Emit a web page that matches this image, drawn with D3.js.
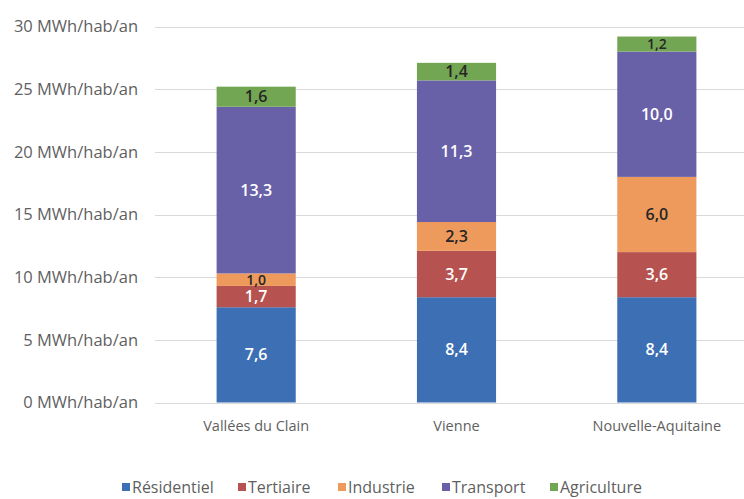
<!DOCTYPE html>
<html><head><meta charset="utf-8">
<script src="https://cdn.jsdelivr.net/npm/d3@7"></script>
<style>body{margin:0;background:#fff}svg{display:block}text{font-family:"Open Sans",sans-serif}</style>
</head><body><svg id="c" width="744" height="499"></svg>
<script>
const categories = ["Vallées du Clain", "Vienne", "Nouvelle-Aquitaine"];
const seriesNames = ["Résidentiel", "Tertiaire", "Industrie", "Transport", "Agriculture"];
const residentiel = [7.6, 8.4, 8.4];
const tertiaire = [1.7, 3.7, 3.6];
const industrie = [1.0, 2.3, 6.0];
const transport = [13.3, 11.3, 10.0];
const agriculture = [1.6, 1.4, 1.2];
const yTicks = [0, 5, 10, 15, 20, 25, 30];
const colors = ["#3d6fb4", "#b6524f", "#ee9a5c", "#6961a8", "#72a653"];
const labelColors = ["#fff", "#fff", "#262626", "#fff", "#262626"];

const seriesVals = [residentiel, tertiaire, industrie, transport, agriculture];
const rows = categories.map((c, i) => {
  const r = {cat: c};
  seriesNames.forEach((s, j) => r[s] = seriesVals[j][i]);
  return r;
});
const stack = d3.stack().keys(seriesNames)(rows);

const svg = d3.select("#c");
const x = d3.scaleBand().domain(categories).range([156, 757]).paddingInner(0.605).paddingOuter(0.3025);
const y = d3.scaleLinear().domain([0, 30]).range([402.5, 26.5]);

const grid = svg.append("g");
grid.selectAll("line").data(yTicks).join("line")
  .attr("x1", 155).attr("x2", 744)
  .attr("y1", d => Math.round(y(d)) + 0.5).attr("y2", d => Math.round(y(d)) + 0.5)
  .attr("stroke", "#d9d9d9").attr("stroke-width", 1.2);

const yAxis = d3.axisLeft(y).tickValues(yTicks).tickSize(0).tickPadding(0)
  .tickFormat(d => d + " MWh/hab/an");
const ya = svg.append("g").attr("transform", "translate(138,0)").call(yAxis);
ya.select(".domain").remove();
ya.selectAll("text").attr("fill", "#5f5f5f").style("font-size", "16.5px").style("font-family", "Open Sans, sans-serif");

const xAxis = d3.axisBottom(x).tickSize(0).tickPadding(0);
const xa = svg.append("g").attr("transform", "translate(0,421)").call(xAxis);
xa.select(".domain").remove();
xa.selectAll("text").attr("fill", "#5f5f5f").style("font-size", "14.5px").style("font-family", "Open Sans, sans-serif");

const layers = svg.append("g").selectAll("g").data(stack).join("g")
  .attr("fill", (d, i) => colors[i]);
layers.selectAll("rect").data(d => d).join("rect")
  .attr("x", d => x(d.data.cat))
  .attr("width", x.bandwidth())
  .attr("y", d => y(d[1]))
  .attr("height", d => y(d[0]) - y(d[1]));

const lab = svg.append("g").selectAll("g").data(stack).join("g");
lab.each(function(s, i) {
  d3.select(this).selectAll("text").data(s).join("text")
    .attr("x", d => x(d.data.cat) + x.bandwidth() / 2)
    .attr("y", d => (y(d[0]) + y(d[1])) / 2)
    .attr("dy", "0.35em")
    .attr("text-anchor", "middle")
    .attr("fill", labelColors[i])
    .style("font-size", d => (d[1] - d[0]) < 1.2 ? "14px" : "16px")
    .style("font-weight", "600")
    .text(d => d3.format(".1f")(d[1] - d[0]).replace(".", ","));
});

// legend
const legendPos = [122, 238, 338, 442, 550];
const lg = svg.append("g").selectAll("g").data(seriesNames).join("g")
  .attr("transform", (d, i) => `translate(${legendPos[i]},487)`);
lg.append("rect").attr("x", 0).attr("y", -4).attr("width", 8).attr("height", 8)
  .attr("fill", (d, i) => colors[i]);
lg.append("text").attr("x", 10).attr("y", 0).attr("dy", "0.35em")
  .attr("fill", "#5f5f5f").style("font-size", "16px").text(d => d);
</script>
</body></html>
